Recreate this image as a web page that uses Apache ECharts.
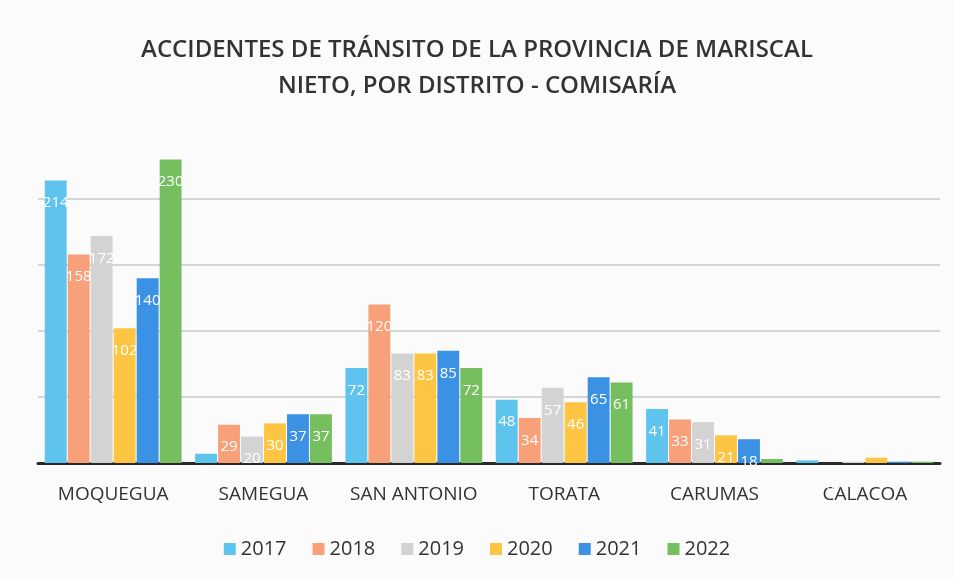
<!DOCTYPE html>
<html>
<head>
<meta charset="utf-8">
<script src="https://cdn.jsdelivr.net/npm/echarts@6/dist/echarts.min.js"></script>
<style>
    html, body { margin: 0; padding: 0; background: #fbfbfb; }
    #chart { width: 954px; height: 580px; }
</style>
</head>
<body>
<div id="chart"></div>
<script>
const districts = ["MOQUEGUA", "SAMEGUA", "SAN ANTONIO", "TORATA", "CARUMAS", "CALACOA"]
const years = ["2017", "2018", "2019", "2020", "2021", "2022"]

const y2017 = [214, 7, 72, 48, 41, 2]
const y2018 = [158, 29, 120, 34, 33, 0]
const y2019 = [172, 20, 83, 57, 31, 1]
const y2020 = [102, 30, 83, 46, 21, 4]
const y2021 = [140, 37, 85, 65, 18, 1]
const y2022 = [230, 37, 72, 61, 3, 1]

const yearValues = [y2017, y2018, y2019, y2020, y2021, y2022]
const colors = ["#5ec4ee", "#f7a07a", "#d3d3d3", "#fec542", "#3b91e4", "#75bf5f"]

const chart = echarts.init(document.getElementById("chart"))

chart.setOption({
    backgroundColor: "#fbfbfb",
    textStyle: { fontFamily: "Open Sans" },
    title: {
        text: "ACCIDENTES DE TRÁNSITO DE LA PROVINCIA DE MARISCAL\nNIETO, POR DISTRITO - COMISARÍA",
        left: "center",
        top: 27,
        textStyle: {
            fontFamily: "Open Sans",
            fontSize: 24,
            fontWeight: 600,
            color: "#333",
            lineHeight: 36,
        },
    },
    legend: {
        bottom: 16,
        left: "center",
        itemWidth: 12,
        itemHeight: 12,
        itemGap: 26,
        icon: "rect",
        textStyle: { fontSize: 20, color: "#333", fontFamily: "Open Sans" },
        data: years,
    },
    grid: {
        left: 38,
        right: 14,
        top: 133,
        bottom: 117,
    },
    xAxis: {
        type: "category",
        data: districts,
        axisTick: { show: false },
        axisLine: { lineStyle: { color: "#2a2a2a", width: 3 } },
        axisLabel: { fontSize: 19, color: "#333", margin: 22, interval: 0 },
    },
    yAxis: {
        type: "value",
        min: 0,
        max: 250,
        interval: 50,
        axisLabel: { show: false },
        axisLine: { show: false },
        axisTick: { show: false },
        splitLine: {
            lineStyle: {
                color: ["#c8c8c8", "#c8c8c8", "#c8c8c8", "#c8c8c8", "#c8c8c8", "rgba(0,0,0,0)"],
                width: 1.5,
            },
        },
    },
    series: years.map((year, i) => ({
        name: year,
        type: "bar",
        data: yearValues[i],
        barGap: "5%",
        barCategoryGap: "9%",
        itemStyle: { color: colors[i] },
        label: {
            show: true,
            position: "insideTop",
            distance: 15,
            color: "#fff",
            fontSize: 15,
        },
    })),
})
</script>
</body>
</html>
